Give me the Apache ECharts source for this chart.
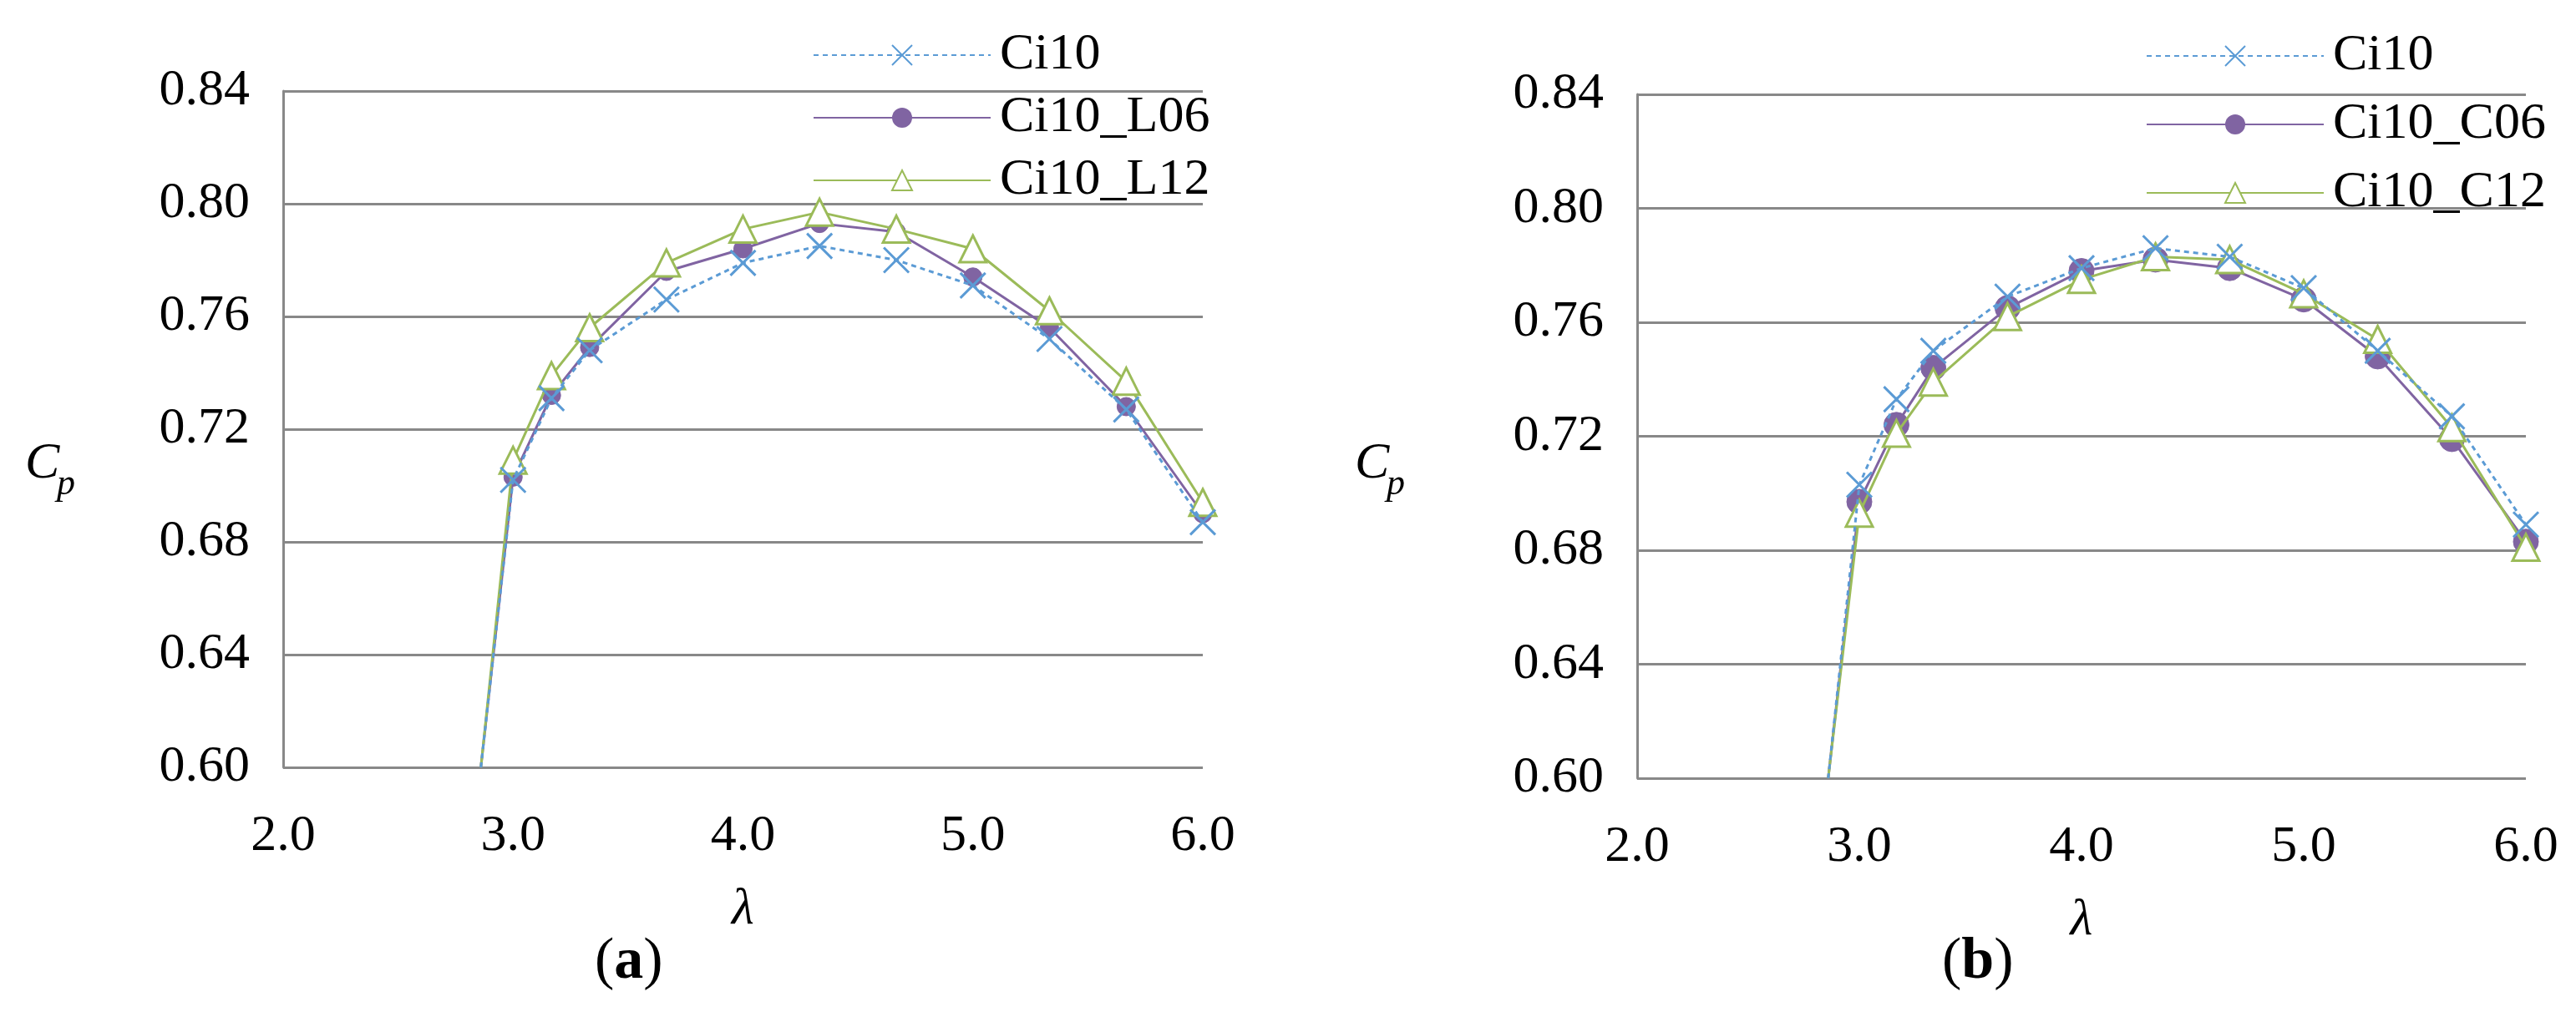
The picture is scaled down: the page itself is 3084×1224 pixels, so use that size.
<!DOCTYPE html>
<html>
<head>
<meta charset="utf-8">
<title>Cp - lambda</title>
<script src="https://cdn.jsdelivr.net/npm/echarts@6/dist/echarts.min.js"></script>
<style>
	html, body { margin: 0; padding: 0; background: #fff; }
	#chart { width: 3084px; height: 1224px; }
</style>
</head>
<body>
<div id="chart"></div>
<script>
	// lambda values (first point has no marker, line runs down to the axis)
	var lambdas = [2.86, 3.0, 3.167, 3.333, 3.667, 4.0, 4.333, 4.667, 5.0, 5.333, 5.667, 6.0];
	var xTicks = ['2.0', '3.0', '4.0', '5.0', '6.0'];

	// (a)
	var a_ci10 = [0.60, 0.702, 0.731, 0.748, 0.766, 0.779, 0.785, 0.780, 0.771, 0.752, 0.727, 0.687];
	var a_l06 = [0.60, 0.703, 0.732, 0.749, 0.776, 0.784, 0.793, 0.790, 0.774, 0.756, 0.728, 0.690];
	var a_l12 = [0.60, 0.709, 0.739, 0.756, 0.779, 0.791, 0.797, 0.791, 0.784, 0.762, 0.737, 0.694];
	// (b)
	var b_ci10 = [0.60, 0.703, 0.733, 0.750, 0.769, 0.779, 0.786, 0.783, 0.772, 0.750, 0.727, 0.689];
	var b_c06 = [0.60, 0.697, 0.724, 0.744, 0.765, 0.778, 0.782, 0.779, 0.768, 0.748, 0.719, 0.683];
	var b_c12 = [0.60, 0.693, 0.721, 0.739, 0.762, 0.775, 0.783, 0.782, 0.770, 0.754, 0.723, 0.681];

	var BLUE = '#5B9BD5', PURPLE = '#8064A2', GREEN = '#9BBB59';
	var FONT = '"Liberation Serif", "DejaVu Serif", serif';
	var CROSS = 'path://M0,0L10,10M10,0L0,10';

	function pts(ys) {
		var out = [];
		for (var i = 0; i < lambdas.length; i++) {
			var p = { value: [lambdas[i], ys[i]] };
			if (i === 0) p.symbol = 'none';
			out.push(p);
		}
		return out;
	}

	function mkSeries(name, ys, kind, idx) {
		var s = {
			name: name, type: 'line', xAxisIndex: idx, yAxisIndex: idx,
			data: pts(ys), animation: false, z: kind === 'tri' ? 4 : (kind === 'dot' ? 3 : 5)
		};
		if (kind === 'cross') {
			s.symbol = CROSS; s.symbolSize = 30;
			s.lineStyle = { color: BLUE, width: 3, type: [6, 5] };
			s.itemStyle = { color: 'none', borderColor: BLUE, borderWidth: 3 };
		} else if (kind === 'dot') {
			s.symbol = 'circle'; s.symbolSize = idx === 0 ? 22 : 30;
			s.lineStyle = { color: PURPLE, width: 3 };
			s.itemStyle = { color: PURPLE, borderColor: PURPLE };
		} else {
			s.symbol = 'triangle'; s.symbolSize = 32;
			s.lineStyle = { color: GREEN, width: 3 };
			s.itemStyle = { color: '#fff', borderColor: GREEN, borderWidth: 3 };
		}
		return s;
	}

	function xAx(idx) {
		return {
			type: 'value', gridIndex: idx, min: 2, max: 6, interval: 1,
			axisLine: { show: false }, axisTick: { show: false }, splitLine: { show: false },
			axisLabel: { fontFamily: FONT, fontSize: 62, color: '#000', margin: 52,
				formatter: function (v) { return v.toFixed(1); } },
			name: 'λ', nameLocation: 'middle', nameGap: 140,
			nameTextStyle: { fontFamily: FONT, fontSize: 62, fontStyle: 'italic', color: '#000' }
		};
	}

	function yAx(idx) {
		return {
			type: 'value', gridIndex: idx, min: 0.60, max: 0.84, interval: 0.04,
			axisLine: { show: true, lineStyle: { color: '#888', width: 3 } },
			axisTick: { show: false },
			splitLine: { lineStyle: { color: '#888', width: 3 } },
			axisLabel: { fontFamily: FONT, fontSize: 62, color: '#000', margin: 40,
				formatter: function (v) { return v.toFixed(2); } }
		};
	}

	function legend(left, top, gap, names) {
		return {
			orient: 'vertical', left: left, top: top, itemWidth: 212, itemHeight: 30, itemGap: gap,
			data: names,
			textStyle: { fontFamily: FONT, fontSize: 62, color: '#000', lineHeight: 70, padding: [0, 0, 0, 6] }
		};
	}

	var chart = echarts.init(document.getElementById('chart'));
	chart.setOption({
		backgroundColor: '#fff',
		grid: [
			{ left: 339, right: 1644, top: 109, bottom: 305 },
			{ left: 1960, right: 60, top: 113, bottom: 292 }
		],
		xAxis: [xAx(0), xAx(1)],
		yAxis: [yAx(0), yAx(1)],
		legend: [
			legend(968, 26, 5, ['Ci10', 'Ci10_L06', 'Ci10_L12']),
			legend(2564, 27, 12, ['Ci10 ', 'Ci10_C06', 'Ci10_C12'])
		],
		graphic: [
			{ type: 'text', left: 30, top: 525, style: { text: 'C', font: 'italic 62px "Liberation Serif"', fill: '#000' } },
			{ type: 'text', left: 68, top: 558, style: { text: 'p', font: 'italic 44px "Liberation Serif"', fill: '#000' } },
			{ type: 'text', left: 1622, top: 525, style: { text: 'C', font: 'italic 62px "Liberation Serif"', fill: '#000' } },
			{ type: 'text', left: 1660, top: 558, style: { text: 'p', font: 'italic 44px "Liberation Serif"', fill: '#000' } },
			{ type: 'text', left: 712, top: 1118, style: { text: '({b|a})', font: '70px "Liberation Serif"', fill: '#000',
				rich: { b: { fontWeight: 'bold', fontSize: 70, fontFamily: 'Liberation Serif' } } } },
			{ type: 'text', left: 2325, top: 1118, style: { text: '({b|b})', font: '70px "Liberation Serif"', fill: '#000',
				rich: { b: { fontWeight: 'bold', fontSize: 70, fontFamily: 'Liberation Serif' } } } }
		],
		series: [
			mkSeries('Ci10', a_ci10, 'cross', 0),
			mkSeries('Ci10_L06', a_l06, 'dot', 0),
			mkSeries('Ci10_L12', a_l12, 'tri', 0),
			mkSeries('Ci10 ', b_ci10, 'cross', 1),
			mkSeries('Ci10_C06', b_c06, 'dot', 1),
			mkSeries('Ci10_C12', b_c12, 'tri', 1)
		]
	});
</script>
</body>
</html>
